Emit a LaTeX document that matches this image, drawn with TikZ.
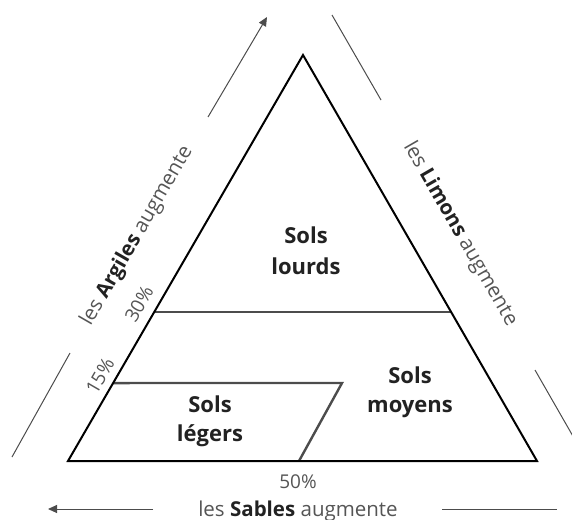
\documentclass[tikz,border=0pt]{standalone}
\usepackage{fontspec}
\setmainfont{Open Sans}
\usetikzlibrary{calc,arrows.meta}
\definecolor{txtgray}{HTML}{555555}
\definecolor{txtdark}{HTML}{222222}
\tikzset{
  tri/.style={draw=black,line width=2pt,line join=miter},
  inner/.style={draw=black!70,line width=2.4pt},
  guide/.style={draw=black!70,line width=1pt},
  soil/.style={font=\fontsize{22}{25}\selectfont\bfseries,text=txtdark,align=center,inner sep=0pt},
  axis/.style={font=\fontsize{20.5}{23}\selectfont,text=txtgray,inner sep=0pt},
  pct/.style={font=\fontsize{19}{22}\selectfont,text=txtgray,inner sep=0pt}
}
\newcommand{\bd}[1]{{\bfseries\color{txtdark}#1}}
\begin{document}
\begin{tikzpicture}[x=1pt,y=-1pt]
\useasboundingbox (0,0) rectangle (572,519);
\coordinate (A) at (303,55);
\coordinate (B) at (68,461);
\coordinate (C) at (537,461);
\coordinate (L30) at ($(B)!0.367!(A)$);
\coordinate (R30) at ($(C)!0.367!(A)$);
\coordinate (L15) at ($(B)!0.192!(A)$);
\coordinate (R15) at (342,383);
\coordinate (S50) at (299,461);
% inner lines
\draw[inner] (L30) -- (R30);
\draw[inner] (L15) -- (R15) -- (S50);
% triangle
\draw[tri] (A) -- (B) -- (C) -- cycle;
% soil labels
\node[soil] (lourds) at (306,251) {Sols\\[6pt]lourds};
\node[soil] (moyens) at (410,392) {Sols\\[4pt]moyens};
\node[soil] (legers) at (210,421) {Sols\\[4pt]légers};
% percentages
\node[pct,rotate=60] (p30) at (139,304) {30\%};
\node[pct,rotate=60] (p15) at (100,376) {15\%};
\node[pct] (p50) at (298,482) {50\%};
% axis labels
\node[axis,rotate=60] (arg) at (137,236) {les \bd{Argiles} augmente};
\node[axis,rotate=-60] (lim) at (460,234) {les \bd{Limons} augmente};
\node[axis] (sab) at (298,511) {les \bd{Sables} augmente};
% guide lines
\coordinate (a1) at (208,117); \coordinate (a2) at (267,17);
\coordinate (a3) at (70,353); \coordinate (a4) at (12,457);
\draw[guide,-{Triangle[length=9pt,width=8pt]}] (a1) -- (a2);
\draw[guide] (a3) -- (a4);
\coordinate (l1) at (332,15); \coordinate (l2) at (381,100);
\coordinate (l3) at (535,370); \coordinate (l4) at (578,445);
\draw[guide] (l1) -- (l2);
\draw[guide] (l3) -- (l4);
\coordinate (s1) at (153,509); \coordinate (s2) at (48,509);
\coordinate (s3) at (442,509); \coordinate (s4) at (557,509);
\draw[guide,-{Triangle[length=9pt,width=8pt]}] (s1) -- (s2);
\draw[guide] (s3) -- (s4);
\end{tikzpicture}
\end{document}
